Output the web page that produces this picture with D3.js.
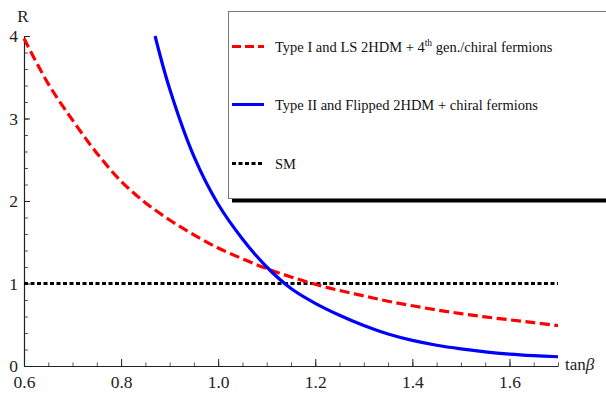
<!DOCTYPE html>
<html>
<head>
<meta charset="utf-8">
<script src="https://cdn.jsdelivr.net/npm/d3@7"></script>
<style>
  body { margin: 0; background: #fff; }
</style>
</head>
<body>
<svg id="chart" width="606" height="393"></svg>
<script>
// values
const tanBeta1 = [0.6, 0.65, 0.7, 0.75, 0.8, 0.85, 0.9, 0.95, 1.0, 1.05, 1.1, 1.15, 1.2,
  1.25, 1.3, 1.35, 1.4, 1.45, 1.5, 1.55, 1.6, 1.65, 1.7];
const typeI = [3.97, 3.42, 2.98, 2.58, 2.24, 1.98, 1.77, 1.59, 1.43, 1.30, 1.18, 1.08, 0.99,
  0.915, 0.85, 0.785, 0.73, 0.68, 0.635, 0.595, 0.56, 0.525, 0.49];

const tanBeta2 = [0.87, 0.9, 0.95, 1.0, 1.05, 1.1, 1.15, 1.2, 1.25, 1.3, 1.35, 1.4, 1.45,
  1.5, 1.55, 1.6, 1.65, 1.7];
const typeII = [4.0, 3.36, 2.54, 1.96, 1.54, 1.20, 0.94, 0.76, 0.615, 0.49, 0.387, 0.31,
  0.252, 0.208, 0.172, 0.145, 0.126, 0.112];

const smX = [0.6, 1.7];
const smY = [1, 1];

const xTicks = [0.6, 0.8, 1.0, 1.2, 1.4, 1.6];
const yTicks = [0, 1, 2, 3, 4];

const legendLabels = [
  'Type I and LS 2HDM + 4',
  'Type II and Flipped 2HDM + chiral fermions',
  'SM'
];

const serif = '"Liberation Serif"';
const svg = d3.select('#chart');

const x = d3.scaleLinear().domain([0.6, 1.7]).range([24, 558]);
const y = d3.scaleLinear().domain([0, 4]).range([366, 36]);

svg.append('clipPath').attr('id', 'plotclip')
  .append('rect').attr('x', 20).attr('y', 34).attr('width', 545).attr('height', 340);

// minor ticks
const xMinor = d3.range(0.6, 1.7001, 0.05).map(v => +v.toFixed(2));
const yMinor = d3.range(0, 4.001, 0.2).map(v => +v.toFixed(1));

svg.append('g')
  .attr('transform', 'translate(0,366)')
  .call(d3.axisBottom(x).tickValues(xMinor).tickSize(-3.5).tickFormat(''))
  .call(g => g.select('.domain').remove())
  .call(g => g.selectAll('line').attr('stroke', '#555'));

svg.append('g')
  .attr('transform', 'translate(24,0)')
  .call(d3.axisLeft(y).tickValues(yMinor).tickSize(-4).tickFormat(''))
  .call(g => g.select('.domain').remove())
  .call(g => g.selectAll('line').attr('stroke', '#555'));

// major axes
svg.append('g')
  .attr('transform', 'translate(0,366)')
  .call(d3.axisBottom(x).tickValues(xTicks).tickSizeInner(-7).tickSizeOuter(0)
    .tickPadding(10).tickFormat(d3.format('.1f')))
  .call(g => g.select('.domain').attr('stroke', '#222').attr('stroke-width', 1.2))
  .call(g => g.selectAll('.tick line').attr('stroke', '#222'))
  .call(g => g.selectAll('text').attr('font-size', 17.5)
    .style('font-family', serif).attr('fill', '#222'));

svg.append('g')
  .attr('transform', 'translate(24,0)')
  .call(d3.axisLeft(y).tickValues(yTicks).tickSizeInner(-6).tickSizeOuter(0)
    .tickPadding(6).tickFormat(d3.format('d')))
  .call(g => g.select('.domain').attr('stroke', '#222').attr('stroke-width', 1.2))
  .call(g => g.selectAll('.tick line').attr('stroke', '#222'))
  .call(g => g.selectAll('text').attr('font-size', 17.5)
    .style('font-family', serif).attr('fill', '#222'));

// axis titles
svg.append('text').attr('x', 23).attr('y', 22).attr('text-anchor', 'middle')
  .style('font-family', serif).attr('font-size', 17).attr('fill', '#222').text('R');

const xt = svg.append('text').attr('x', 565).attr('y', 370)
  .style('font-family', serif).attr('font-size', 17).attr('fill', '#222');
xt.append('tspan').text('tan');
xt.append('tspan').attr('font-style', 'italic').text('β');

// curves
const line = d3.line()
  .x(d => x(d[0]))
  .y(d => y(d[1]))
  .curve(d3.curveCatmullRom.alpha(0.5));

const plot = svg.append('g').attr('clip-path', 'url(#plotclip)');

plot.append('path')
  .datum(d3.zip(smX, smY))
  .attr('d', line)
  .attr('fill', 'none')
  .attr('stroke', '#000')
  .attr('stroke-width', 3)
  .attr('stroke-dasharray', '4,2.5');

plot.append('path')
  .datum(d3.zip(tanBeta1, typeI))
  .attr('d', line)
  .attr('fill', 'none')
  .attr('stroke', '#ff0000')
  .attr('stroke-width', 3.2)
  .attr('stroke-dasharray', '10,4.5');

plot.append('path')
  .datum(d3.zip(tanBeta2, typeII))
  .attr('d', line)
  .attr('fill', 'none')
  .attr('stroke', '#0000ff')
  .attr('stroke-width', 3.2);

// legend
const lg = svg.append('g');
lg.append('rect').attr('x', 232).attr('y', 15).attr('width', 378).attr('height', 187.5)
  .attr('fill', '#000');
lg.append('rect').attr('x', 228.5).attr('y', 11.5).attr('width', 378).attr('height', 187)
  .attr('fill', '#fff').attr('stroke', '#777').attr('stroke-width', 1);

const legendStyles = [
  { color: '#ff0000', dash: '9,4' },
  { color: '#0000ff', dash: null },
  { color: '#000', dash: '4,2.5' }
];
const rowY = [46.5, 104.5, 163.5];

legendLabels.forEach((label, i) => {
  lg.append('line')
    .attr('x1', 232).attr('x2', 264)
    .attr('y1', rowY[i]).attr('y2', rowY[i])
    .attr('stroke', legendStyles[i].color)
    .attr('stroke-width', 3)
    .attr('stroke-dasharray', legendStyles[i].dash);
  const t = lg.append('text')
    .attr('x', 275).attr('y', rowY[i] + 5.5)
    .style('font-family', serif)
    .attr('font-size', 14.5).attr('fill', '#111')
    .text(label);
  if (i === 0) {
    t.append('tspan').attr('font-size', 9.5).attr('dy', -6).text('th');
    t.append('tspan').attr('dy', 6).text(' gen./chiral fermions');
  }
});
</script>
</body>
</html>
